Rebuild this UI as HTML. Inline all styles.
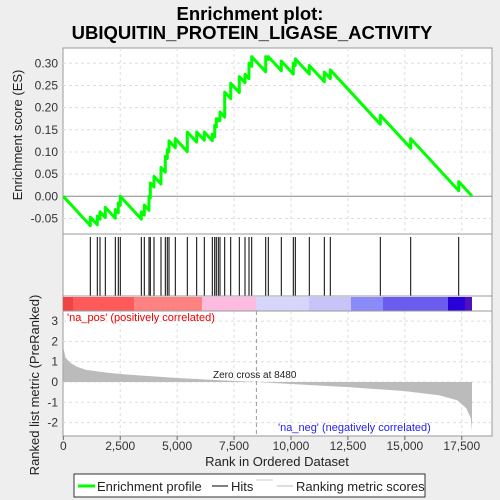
<!DOCTYPE html>
<html><head><meta charset="utf-8"><style>
body{margin:0;background:#eeeeee;}
svg{display:block;font-family:"Liberation Sans",sans-serif;}
</style></head><body>
<svg id="c" width="500" height="500">
<text x="250" y="20" text-anchor="middle" font-size="18.5" font-weight="bold">Enrichment plot:</text>
<text x="252" y="39" text-anchor="middle" font-size="18.5" font-weight="bold">UBIQUITIN_PROTEIN_LIGASE_ACTIVITY</text>
<rect x="63" y="48" width="429" height="388" fill="#fff" stroke="#999"/>
<g id="grid"></g>
<g id="es"></g>
<g id="hits"></g>
<g id="bar"></g>
<g id="metric"></g>
<line x1="63" y1="234" x2="492" y2="234" stroke="#999"/>
<line x1="63" y1="296" x2="492" y2="296" stroke="#999"/>
<line x1="63" y1="311" x2="492" y2="311" stroke="#999"/>
<g id="axes" font-size="12" fill="#333"></g>
<text x="67" y="321" font-size="11" fill="#e00">'na_pos' (positively correlated)</text>
<text x="278" y="431" font-size="11" fill="#22e">'na_neg' (negatively correlated)</text>
<text x="213" y="378" font-size="10" fill="#222">Zero cross at 8480</text>
<text x="277" y="466" text-anchor="middle" font-size="13" fill="#222">Rank in Ordered Dataset</text>
<text transform="translate(22,135) rotate(-90)" text-anchor="middle" font-size="13" fill="#222">Enrichment score (ES)</text>
<text transform="translate(39,385) rotate(-90)" text-anchor="middle" font-size="13" fill="#222">Ranked list metric (PreRanked)</text>
<g>
<rect x="74" y="474" width="351" height="23" fill="#fff" stroke="#333"/>
<line x1="78" y1="486" x2="95" y2="486" stroke="#0f0" stroke-width="3"/>
<text x="97" y="491" font-size="13" fill="#222">Enrichment profile</text>
<line x1="212" y1="486" x2="228" y2="486" stroke="#000"/>
<text x="231" y="491" font-size="13" fill="#222">Hits</text>
<line x1="256" y1="480" x2="273" y2="480" stroke="#ccc"/>
<line x1="277" y1="486" x2="293" y2="486" stroke="#bbb"/>
<text x="296" y="491" font-size="13" fill="#222">Ranking metric scores</text>
</g>
</svg>
<script>
const N=17950;
const hitRanks=[1186,1493,1612,1845,2284,2415,2503,3426,3557,3764,3821,3983,4291,4480,4567,4642,4919,5446,5858,6192,6544,6649,6719,6807,6882,7088,7352,7730,7980,8155,8274,8889,9003,9574,10101,10189,10804,11463,11726,13922,15257,17365];
const hitPeaks=[-0.047,-0.045,-0.035,-0.025,-0.03,-0.015,0.0,-0.035,-0.02,0.0,0.03,0.045,0.065,0.09,0.105,0.125,0.13,0.145,0.145,0.145,0.14,0.16,0.175,0.175,0.19,0.235,0.255,0.27,0.275,0.30,0.315,0.315,0.315,0.305,0.30,0.31,0.295,0.28,0.285,0.183,0.13,0.033];
const metricRanks=[0,100,300,600,1000,2000,3000,5000,7000,8480,10000,12500,15000,16500,17300,17700,17900,17950];
const metricVals=[1.7,1.2,0.95,0.75,0.6,0.45,0.35,0.2,0.08,0,-0.1,-0.25,-0.45,-0.65,-0.9,-1.3,-1.8,-2.4];
const xTicks=[0,2500,5000,7500,10000,12500,15000,17500];
const xTickLabels=["0","2,500","5,000","7,500","10,000","12,500","15,000","17,500"];
const esTicks=[-0.05,0,0.05,0.1,0.15,0.2,0.25,0.3];
const esTickLabels=["-0.05","0.00","0.05","0.10","0.15","0.20","0.25","0.30"];
const mTicks=[-2,-1,0,1,2,3];
const mTickLabels=["-2","-1","0","1","2","3"];
const NS="http://www.w3.org/2000/svg";
const X=r=>63.3+r*0.02277;
const YE=v=>196.3-v*443.4;
const YM=v=>382-v*20.3;
function mk(p,t,a){const e=document.createElementNS(NS,t);for(const k in a)e.setAttribute(k,a[k]);document.getElementById(p).appendChild(e);return e;}
xTicks.forEach(t=>{if(t>0){const l=mk('grid','line',{x1:X(t),x2:X(t),y1:48,y2:234,stroke:'#ddd','stroke-dasharray':'3,3'});const l2=mk('grid','line',{x1:X(t),x2:X(t),y1:311,y2:436,stroke:'#ddd','stroke-dasharray':'3,3'});}});
esTicks.forEach(t=>{const l=mk('grid','line',{x1:63,x2:492,y1:YE(t),y2:YE(t),stroke:t===0?'#888':'#ddd','stroke-dasharray':t===0?'':'3,3'});});
mTicks.forEach(t=>{const l=mk('grid','line',{x1:63,x2:492,y1:YM(t),y2:YM(t),stroke:'#ddd','stroke-dasharray':'3,3'});});
const slope=1/N;let pts=[[0,0]],prev=0,prevR=0;
hitRanks.forEach((r,i)=>{pts.push([r,prev-(r-prevR)*slope]);pts.push([r,hitPeaks[i]]);prev=hitPeaks[i];prevR=r;});
pts.push([N,prev-(N-prevR)*slope]);
const pl=mk('es','polyline',{points:pts.map(p=>X(p[0])+','+YE(p[1])).join(' '),fill:'none',stroke:'#0f0','stroke-width':3,'stroke-linejoin':'round'});

hitRanks.forEach(r=>{const l=mk('hits','line',{x1:X(r),x2:X(r),y1:237,y2:296,stroke:'#000','stroke-width':1});});
const segs=[[63,73,'#f04444'],[73,134,'#ff5a5a'],[134,202,'#ff8282'],[202,256,'#fbbce0'],[256,309,'#d6d6fb'],[309,351,'#c8c4fa'],[351,383,'#8a8af8'],[383,448,'#6c5cee'],[448,465,'#2a00d8'],[465,472,'#5010c0']];
segs.forEach(s=>{const r=mk('bar','rect',{x:s[0],y:297,width:s[1]-s[0],height:14,fill:s[2]});});
let mp=[[X(0),YM(0)]];metricRanks.forEach((r,i)=>mp.push([X(r),YM(metricVals[i])]));mp.push([X(N),YM(0)]);
const ar=mk('metric','polygon',{points:mp.map(p=>p.join(',')).join(' '),fill:'#bbb'});

const zl=mk('metric','line',{x1:X(8480),x2:X(8480),y1:311,y2:436,stroke:'#999','stroke-dasharray':'4,3'});

xTicks.forEach((t,i)=>{const tx=mk('axes','text',{x:X(t),y:450,'text-anchor':'middle'});tx.textContent=xTickLabels[i];mk('axes','line',{x1:X(t),x2:X(t),y1:436,y2:440,stroke:'#666'});});
esTicks.forEach((t,i)=>{const tx=mk('axes','text',{x:58,y:YE(t)+4,'text-anchor':'end'});tx.textContent=esTickLabels[i];});
mTicks.forEach((t,i)=>{const tx=mk('axes','text',{x:58,y:YM(t)+4,'text-anchor':'end'});tx.textContent=mTickLabels[i];});
</script>
</body></html>
